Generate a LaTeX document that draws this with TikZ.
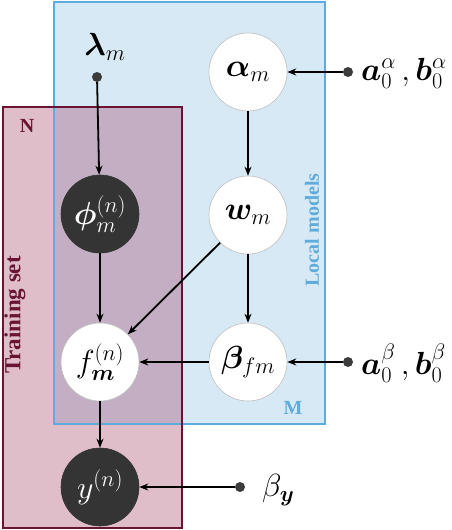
\RequirePackage{fix-cm}
\documentclass[tikz,border=0pt]{standalone}
\usepackage{amsmath,bm}
\usepackage{fontspec}
\newfontfamily\lblfont{Liberation Serif}
\usetikzlibrary{arrows.meta}
\definecolor{plateblue}{RGB}{215,233,245}
\definecolor{plateblueline}{RGB}{95,172,220}
\definecolor{platered}{RGB}{150,40,80}
\definecolor{plateredline}{RGB}{105,20,50}
\definecolor{darknode}{RGB}{52,52,52}
\definecolor{dotc}{RGB}{60,60,60}
\tikzset{
  var/.style={circle, minimum size=78pt, inner sep=0pt, draw=black!25, line width=0.6pt, fill=white, font=\fontsize{32}{36}\selectfont},
  obs/.style={var, fill=darknode, draw=darknode, text=white},
  hyper/.style={circle, fill=dotc, minimum size=10pt, inner sep=0pt},
  hlabel/.style={font=\fontsize{32}{36}\selectfont, inner sep=0pt},
  edge/.style={-{Stealth[length=9pt,width=7pt]}, line width=1.8pt, black},
  plabel/.style={font=\lblfont\bfseries\fontsize{20}{24}\selectfont, inner sep=0pt}
}
\begin{document}
\begin{tikzpicture}[x=1pt,y=-1pt]
\useasboundingbox (0,0) rectangle (452,530);
% plates
\fill[plateblue] (54,2) rectangle (325,424);
\fill[platered, fill opacity=0.3] (3,107) rectangle (182,528);
\draw[plateblueline, line width=1.2pt] (54,2) rectangle (325,424);
\draw[plateredline, line width=1.8pt] (3,107) rectangle (182,528);
\node[plabel, text=plateredline] (N) at (27,126) {N};
\node[plabel, text=plateblueline] (M) at (293,408) {M};
\node[plabel, text=plateredline, rotate=90, font=\lblfont\bfseries\fontsize{23}{26}\selectfont] (TS) at (15,315) {Training set};
\node[plabel, text=plateblueline, rotate=90] (LM) at (312,230) {Local models};
% nodes
\node[var] (alpha) at (248,72) {$\boldsymbol{\alpha}_m$};
\node[var] (w) at (248,215) {$\boldsymbol{w}_m$};
\node[var] (beta) at (248,362) {$\boldsymbol{\beta}_{fm}$};
\node[obs] (phi) at (100,214) {$\boldsymbol{\phi}_m^{(n)}$};
\node[var] (f) at (100,362) {$f_{\boldsymbol{m}}^{(n)}$};
\node[obs] (y) at (100,487) {$y^{(n)}$};
% hyperparameters
\node[hyper] (lam) at (97,77) {};
\node[hlabel] (laml) at (105,47) {$\boldsymbol{\lambda}_m$};
\node[hyper] (a0) at (348,72) {};
\node[hlabel, anchor=west] (a0l) at (361,73) {$\boldsymbol{a}_0^{\alpha}\,,\boldsymbol{b}_0^{\alpha}$};
\node[hyper] (a0b) at (348,362) {};
\node[hlabel, anchor=west] (a0bl) at (361,363) {$\boldsymbol{a}_0^{\beta}\,,\boldsymbol{b}_0^{\beta}$};
\node[hyper] (by) at (240,487) {};
\node[hlabel, anchor=west] (byl) at (262,490) {$\beta_{\boldsymbol{y}}$};
% edges
\draw[edge] (lam) -- (phi);
\draw[edge] (alpha) -- (w);
\draw[edge] (w) -- (beta);
\draw[edge] (w) -- (f);
\draw[edge] (phi) -- (f);
\draw[edge] (beta) -- (f);
\draw[edge] (f) -- (y);
\draw[edge] (a0) -- (alpha);
\draw[edge] (a0b) -- (beta);
\draw[edge] (by) -- (y);
\end{tikzpicture}
\end{document}
